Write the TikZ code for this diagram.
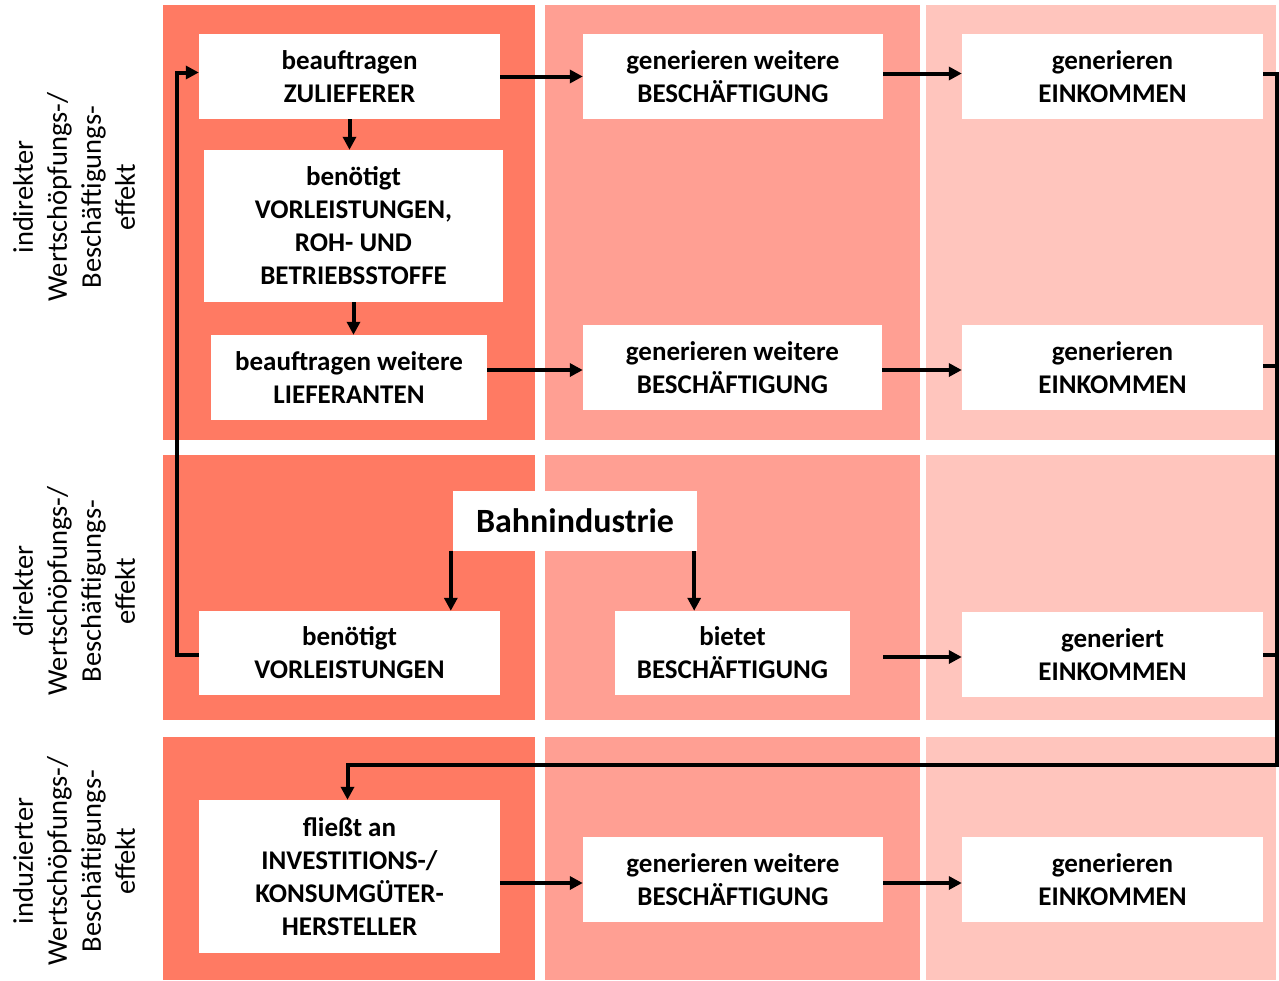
\documentclass[tikz,border=0pt]{standalone}
\usepackage{fontspec}
\setmainfont{Carlito}
\usetikzlibrary{arrows.meta}
\definecolor{colA}{HTML}{FF7A63}
\definecolor{colB}{HTML}{FF9F93}
\definecolor{colC}{HTML}{FFC5BD}
\begin{document}
\begin{tikzpicture}[x=1pt,y=-1pt,
  box/.style={fill=white, align=center, inner sep=0pt, font=\bfseries\fontsize{27}{33}\selectfont},
  side/.style={rotate=90, align=center, inner sep=0pt, font=\fontsize{28.5}{34}\selectfont},
  conn/.style={line width=4pt, -{Triangle[length=13pt,width=13pt]}},
  plain/.style={line width=4pt}]
\useasboundingbox (0,0) rectangle (1279,980);
\fill[white] (0,0) rectangle (1279,980);
% panels
\fill[colA] (163,5) rectangle (535,440);
\fill[colB] (545,5) rectangle (920,440);
\fill[colC] (926,5) rectangle (1276,440);
\fill[colA] (163,455) rectangle (535,720);
\fill[colB] (545,455) rectangle (920,720);
\fill[colC] (926,455) rectangle (1276,720);
\fill[colA] (163,737) rectangle (535,980);
\fill[colB] (545,737) rectangle (920,980);
\fill[colC] (926,737) rectangle (1276,980);
% side labels
\node[side] (l1) at (74,197) {indirekter\\Wertschöpfungs-/\\Beschäftigungs-\\effekt};
\node[side] (l2) at (74,591) {direkter\\Wertschöpfungs-/\\Beschäftigungs-\\effekt};
\node[side] (l3) at (74,861) {induzierter\\Wertschöpfungs-/\\Beschäftigungs-\\effekt};
% boxes
\node[box, minimum width=301pt, minimum height=85pt] (zul) at (349.5,76.5) {beauftragen\\ZULIEFERER};
\node[box, minimum width=299pt, minimum height=152pt] (vorl) at (353.5,226) {benötigt\\VORLEISTUNGEN,\\ROH- UND\\BETRIEBSSTOFFE};
\node[box, minimum width=276pt, minimum height=85pt] (lief) at (349,377.5) {beauftragen weitere\\LIEFERANTEN};
\node[box, minimum width=300pt, minimum height=85pt] (b1) at (733,76.5) {generieren weitere\\BESCHÄFTIGUNG};
\node[box, minimum width=301pt, minimum height=85pt] (e1) at (1112.5,76.5) {generieren\\EINKOMMEN};
\node[box, minimum width=299pt, minimum height=85pt] (b2) at (732.5,367.5) {generieren weitere\\BESCHÄFTIGUNG};
\node[box, minimum width=301pt, minimum height=85pt] (e2) at (1112.5,367.5) {generieren\\EINKOMMEN};
\node[box, minimum width=244pt, minimum height=60pt, font=\bfseries\fontsize{34}{40}\selectfont] (bahn) at (575,521) {Bahnindustrie};
\node[box, minimum width=301pt, minimum height=84pt] (vorl2) at (349.5,653) {benötigt\\VORLEISTUNGEN};
\node[box, minimum width=235pt, minimum height=84pt] (biet) at (732.5,653) {bietet\\BESCHÄFTIGUNG};
\node[box, minimum width=301pt, minimum height=85pt] (e3) at (1112.5,654.5) {generiert\\EINKOMMEN};
\node[box, minimum width=301pt, minimum height=153pt] (fli) at (349.5,876.5) {fließt an\\INVESTITIONS-/\\KONSUMGÜTER-\\HERSTELLER};
\node[box, minimum width=300pt, minimum height=85pt] (b3) at (733,879.5) {generieren weitere\\BESCHÄFTIGUNG};
\node[box, minimum width=301pt, minimum height=85pt] (e4) at (1112.5,879.5) {generieren\\EINKOMMEN};
% helper coordinates
\coordinate (lx) at (177,0);
\coordinate (rx) at (1277,0);
\coordinate (ry) at (0,765);
\coordinate (bs) at (883,657);
% connectors
\draw[conn] (zul.east) -- (b1.west);
\draw[conn] ([yshift=3pt]b1.east) -- ([yshift=3pt]e1.west);
\draw[conn] (zul.south) -- (zul.south |- vorl.north);
\draw[conn] (vorl.south) -- (vorl.south |- lief.north);
\draw[conn] ([yshift=-2.5pt]lief.east |- b2.west) -- ([yshift=-2.5pt]b2.west);
\draw[conn] ([yshift=-2.5pt]b2.east) -- ([yshift=-2.5pt]e2.west);
\draw[conn] ([xshift=-2pt]bahn.south west) -- ([xshift=-2pt]bahn.south west |- vorl2.north);
\draw[conn] ([xshift=-3pt]bahn.south east) -- ([xshift=-3pt]bahn.south east |- biet.north);
\draw[conn] (bs) -- (bs -| e3.west);
\draw[conn] ([yshift=-2pt]vorl2.west) -- ([yshift=-2pt]vorl2.west -| lx) |- ([yshift=4pt]zul.west);
\draw[conn] ([yshift=3pt]e1.east) -- ([yshift=3pt]e1.east -| rx) -- (rx |- ry) -| ([xshift=-2pt]fli.north);
\draw[plain] ([yshift=2pt]e2.east) -- ([yshift=2pt]e2.east -| rx);
\draw[plain] (e3.east) -- (e3.east -| rx);
\draw[conn] ([yshift=-3.5pt]fli.east |- b3.west) -- ([yshift=-3.5pt]b3.west);
\draw[conn] ([yshift=-3.5pt]b3.east) -- ([yshift=-3.5pt]e4.west);
\end{tikzpicture}
\end{document}
